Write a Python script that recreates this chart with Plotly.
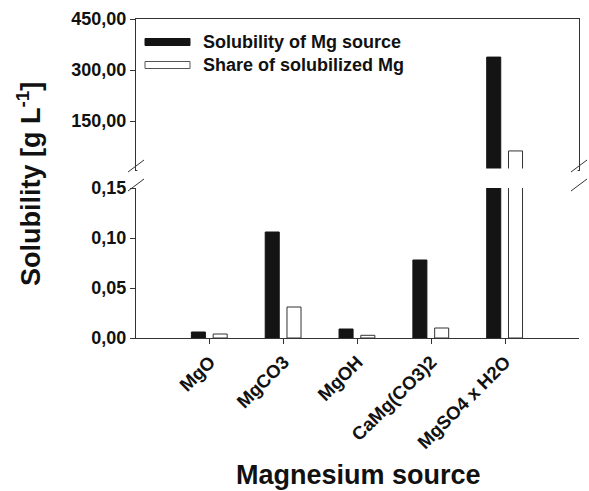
import plotly.graph_objects as go

categories = ["MgO", "MgCO3", "MgOH", "CaMg(CO3)2", "MgSO4 x H2O"]
solubility = [0.006, 0.106, 0.009, 0.078, 338.0]
share = [0.004, 0.031, 0.0027, 0.010, 62.0]
series_names = ["Solubility of Mg source", "Share of solubilized Mg"]

upper_ticks = [150, 300, 450]
upper_labels = ["150,00", "300,00", "450,00"]
lower_ticks = [0, 0.05, 0.10, 0.15]
lower_labels = ["0,00", "0,05", "0,10", "0,15"]

FONT = "Liberation Sans, Arial, sans-serif"
INK = "#111111"
W, H = 589, 491
L, R, T, B = 136, 10, 19, 153
plot_h = H - T - B


def px_x(px):
    return (px - L) / (W - L - R)


def px_y(py):
    return (338 - py) / plot_h


lower_top = px_y(188)
upper_bot = px_y(170)

fig = go.Figure()
for xa, ya in [("x", "y"), ("x2", "y2")]:
    fig.add_trace(go.Bar(x=categories, y=solubility, xaxis=xa, yaxis=ya,
                         name=series_names[0], showlegend=False,
                         width=0.19, offset=-0.25,
                         marker=dict(color="#141414", line=dict(color="#141414", width=1))))
    fig.add_trace(go.Bar(x=categories, y=share, xaxis=xa, yaxis=ya,
                         name=series_names[1], showlegend=False,
                         width=0.19, offset=0.045,
                         marker=dict(color="white", line=dict(color="#333333", width=1))))

tickfont = dict(size=18, family=FONT, color=INK)
fig.update_layout(
    width=W, height=H,
    margin=dict(l=L, r=R, t=T, b=B, autoexpand=False),
    paper_bgcolor="white", plot_bgcolor="white",
    barmode="overlay",
    font=dict(family=FONT, color=INK),
    showlegend=False,
    xaxis=dict(range=[-1, 5], domain=[0, 1], anchor="y",
               tickmode="array", tickvals=categories,
               ticktext=["<b>%s</b>" % c for c in categories],
               tickangle=-45, tickfont=dict(size=18.5, family=FONT, color=INK),
               ticks="outside", ticklen=5, tickcolor="#333",
               showline=True, linecolor="#333", linewidth=1,
               showgrid=False, zeroline=False, automargin=False),
    xaxis2=dict(range=[-1, 5], domain=[0, 1], anchor="y2", matches="x",
                showticklabels=False, ticks="", showline=True, linecolor="#333",
                linewidth=1, mirror=True, showgrid=False, zeroline=False),
    yaxis=dict(domain=[0, lower_top], range=[0, 0.15], anchor="x",
               tickmode="array", tickvals=lower_ticks,
               ticktext=["<b>%s</b>" % t for t in lower_labels],
               tickfont=tickfont, ticks="outside", ticklen=5, tickcolor="#333",
               showline=True, linecolor="#333", linewidth=1,
               showgrid=False, zeroline=False, automargin=False),
    yaxis2=dict(domain=[upper_bot, 1], range=[6, 450], anchor="x2",
                tickmode="array", tickvals=upper_ticks,
                ticktext=["<b>%s</b>" % t for t in upper_labels],
                tickfont=tickfont, ticks="outside", ticklen=5, tickcolor="#333",
                showline=True, linecolor="#333", linewidth=1, mirror=True,
                showgrid=False, zeroline=False, automargin=False),
)

# remove the bottom line of the upper segment (axis break)
fig.add_shape(type="line", xref="paper", yref="paper",
              x0=0.003, x1=0.997, y0=upper_bot, y1=upper_bot,
              line=dict(color="white", width=3))

# axis break marks
for xc in (136, 579):
    for yc in (166, 185):
        fig.add_shape(type="line", xref="paper", yref="paper",
                      x0=px_x(xc - 8), y0=px_y(yc + 6), x1=px_x(xc + 8), y1=px_y(yc - 6),
                      line=dict(color="#333", width=1))

# legend (wide swatches like the original)
legend_rows = [(42, "#141414", "#141414"), (65, "white", "#555555")]
for (yc, fill, edge), name in zip(legend_rows, series_names):
    fig.add_shape(type="rect", xref="paper", yref="paper",
                  x0=px_x(145), x1=px_x(190), y0=px_y(yc - 3.5), y1=px_y(yc + 3.5),
                  fillcolor=fill, line=dict(color=edge, width=1))
    fig.add_annotation(text="<b>%s</b>" % name, xref="paper", yref="paper",
                       x=px_x(201), y=px_y(yc), xanchor="left", yanchor="middle",
                       showarrow=False, font=dict(size=18, family=FONT, color=INK))

fig.add_annotation(text="<b>Solubility [g L<sup>-1</sup>]</b>", xref="paper", yref="paper",
                   x=px_x(29), y=px_y(184), xanchor="center", yanchor="middle",
                   textangle=-90, showarrow=False,
                   font=dict(size=27, family=FONT, color=INK))
fig.add_annotation(text="<b>Magnesium source</b>", xref="paper", yref="paper",
                   x=px_x(358), y=px_y(475), xanchor="center", yanchor="middle",
                   showarrow=False,
                   font=dict(size=27, family=FONT, color=INK))

fig.write_html("out.html", config={"displayModeBar": False},
               post_script="document.body.style.margin='0';")
